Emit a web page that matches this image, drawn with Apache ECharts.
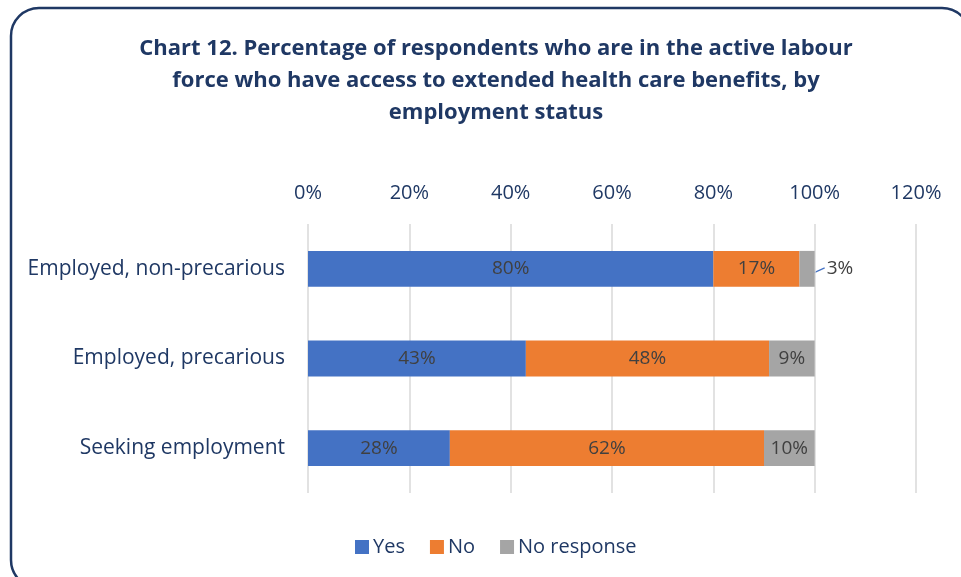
<!DOCTYPE html>
<html>
<head>
<meta charset="utf-8">
<script src="https://cdn.jsdelivr.net/npm/echarts@6/dist/echarts.min.js"></script>
<style>
  html, body { margin: 0; padding: 0; background: #ffffff; }
  #chart { width: 961px; height: 577px; }
</style>
</head>
<body>
<div id="chart"></div>
<script>
// Employment status groups, top to bottom
const categories = ['Employed, non-precarious', 'Employed, precarious', 'Seeking employment'];
// Share of respondents (%) per answer
const yesValues = [80, 43, 28];
const noValues = [17, 48, 62];
const noResponseValues = [3, 9, 10];
const axisTicks = [0, 20, 40, 60, 80, 100, 120];

const navy = '#1F3864';
const labelGrey = '#404040';
const font = '"Open Sans", "Noto Sans", sans-serif';

const chart = echarts.init(document.getElementById('chart'));

function barLabel(extra) {
  return Object.assign({
    show: true,
    position: 'inside',
    color: labelGrey,
    fontSize: 19,
    fontFamily: font,
    formatter: p => p.value + '%'
  }, extra || {});
}

const frame = {
  type: 'rect',
  silent: true,
  shape: { x: 11, y: 8, width: 959, height: 580, r: 28 },
  style: { fill: 'none', stroke: navy, lineWidth: 2.5 }
};

chart.setOption({
  animation: false,
  backgroundColor: '#ffffff',
  title: {
    text: 'Chart 12. Percentage of respondents who are in the active labour\nforce who have access to extended health care benefits, by\nemployment status',
    left: 491,
    top: 28,
    textAlign: 'center',
    textStyle: {
      color: navy,
      fontFamily: font,
      fontWeight: 'bold',
      fontSize: 22,
      lineHeight: 32
    }
  },
  graphic: [frame],
  legend: {
    bottom: 15,
    left: 350,
    icon: 'rect',
    itemWidth: 14,
    itemHeight: 14,
    itemGap: 25,
    textStyle: { color: navy, fontFamily: font, fontSize: 20, padding: [0, 0, 0, -1] },
    data: ['Yes', 'No', 'No response']
  },
  grid: { left: 308, right: 45, top: 224, bottom: 84, containLabel: false },
  xAxis: {
    type: 'value',
    position: 'top',
    min: axisTicks[0],
    max: axisTicks[axisTicks.length - 1],
    interval: axisTicks[1] - axisTicks[0],
    axisLine: { show: false },
    axisTick: { show: false },
    axisLabel: {
      color: navy,
      fontFamily: font,
      fontSize: 20,
      margin: 21,
      formatter: '{value}%'
    },
    splitLine: { show: true, lineStyle: { color: '#d9d9d9', width: 1.5 } }
  },
  yAxis: {
    type: 'category',
    inverse: true,
    data: categories,
    axisLine: { show: false },
    axisTick: { show: false },
    axisLabel: {
      color: navy,
      fontFamily: font,
      fontSize: 21,
      margin: 23
    }
  },
  series: [
    {
      name: 'Yes',
      type: 'bar',
      stack: 'total',
      barCategoryGap: '60%',
      data: yesValues,
      itemStyle: { color: '#4472C4' },
      label: barLabel()
    },
    {
      name: 'No',
      type: 'bar',
      stack: 'total',
      data: noValues,
      itemStyle: { color: '#ED7D31' },
      label: barLabel()
    },
    {
      name: 'No response',
      type: 'bar',
      stack: 'total',
      data: noResponseValues.map((v, i) => i === 0
        ? { value: v, label: { position: 'right', distance: 12 } }
        : v),
      itemStyle: { color: '#A5A5A5' },
      label: barLabel()
    }
  ]
});

// Leader line from the thin "No response" segment to its outside label
const segEnd = yesValues[0] + noValues[0] + noResponseValues[0];
const from = chart.convertToPixel({ gridIndex: 0 }, [segEnd - noResponseValues[0] / 2, categories[0]]);
const to = chart.convertToPixel({ gridIndex: 0 }, [segEnd, categories[0]]);
chart.setOption({
  graphic: [frame, {
    type: 'line',
    silent: true,
    shape: { x1: from[0], y1: from[1] + 7, x2: to[0] + 10, y2: to[1] - 1 },
    style: { stroke: '#4472C4', lineWidth: 1.2 }
  }]
});
</script>
</body>
</html>
